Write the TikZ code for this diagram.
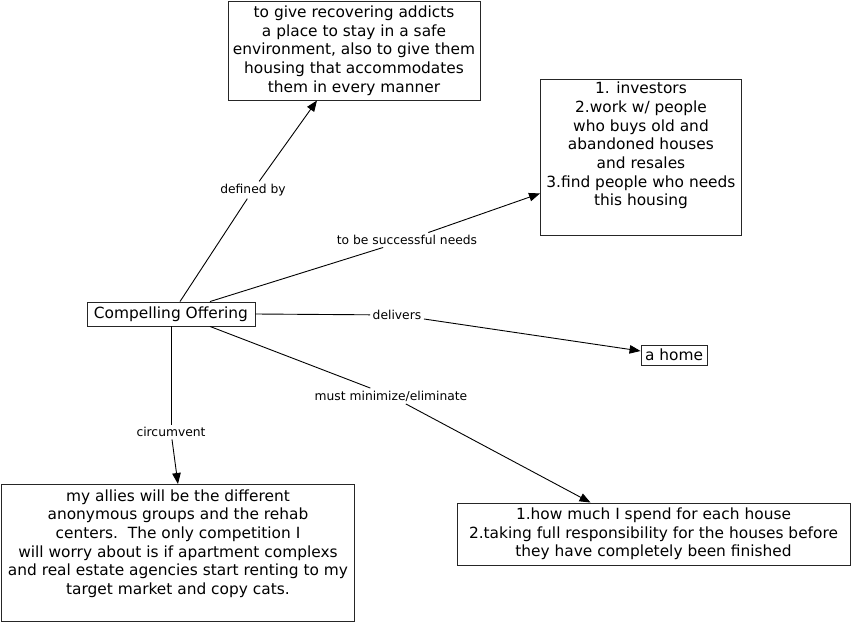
\documentclass[tikz,border=0pt]{standalone}
\usepackage{fontspec}
\setmainfont{DejaVu Sans}
\usetikzlibrary{arrows.meta}
\begin{document}
\begin{tikzpicture}[x=1pt,y=-1pt,
  box/.style={draw=black!85, line width=0.9pt, align=center, inner sep=0pt,
    font=\fontsize{15.4}{18.7}\selectfont},
  lbl/.style={inner sep=2.5pt, font=\fontsize{12.3}{14}\selectfont},
  conn/.style={line width=0.9pt},
  arr/.style={conn, -{Triangle[length=11pt,width=8.5pt]}}]
\useasboundingbox (0,0) rectangle (853,623);

\node[box, minimum width=252pt, minimum height=99pt] (goal) at (354,50.5)
  {to give recovering addicts\\a place to stay in a safe\\environment, also to give them\\housing that accommodates\\them in every manner};

\node[box, anchor=north west] (needs) at (540,79)
  {\begin{minipage}[c][156pt][t]{201pt}\centering\vspace*{2.5pt}%
  1. investors\\2.work w/ people\\who buys old and\\abandoned houses\\and resales\\3.find people who needs\\this housing\end{minipage}};

\node[box, minimum width=168pt, minimum height=24pt] (co) at (171,314) {Compelling Offering};

\node[box, minimum width=66pt, minimum height=20pt] (home) at (674,355) {a home};

\node[box, anchor=north west] (bl) at (1,484)
  {\begin{minipage}[c][137pt][t]{353pt}\centering\vspace*{5pt}%
  my allies will be the different\\anonymous groups and the rehab\\centers.\ \ The only competition I\\will worry about is if apartment complexs\\and real estate agencies start renting to my\\target market and copy cats.\end{minipage}};

\node[box, minimum width=393pt, minimum height=62pt] (br) at (653.5,534)
  {1.how much I spend for each house\\2.taking full responsibility for the houses before\\they have completely been finished};

\node[lbl] (l1) at (253,190) {defined by};
\node[lbl] (l2) at (407,240) {to be successful needs};
\node[lbl] (l3) at (397,315) {delivers};
\node[lbl] (l4) at (391,396) {must minimize/eliminate};
\node[lbl] (l5) at (171,432) {circumvent};

\draw[conn] ([xshift=9pt]co.north) -- (l1);
\draw[arr] (l1) -- ([xshift=-37pt]goal.south);
\draw[conn] ([xshift=39pt]co.north) -- (l2);
\draw[arr] (l2) -- ([yshift=-36pt]needs.west);
\draw[conn] (co.east) -- (l3);
\draw[arr] (l3) -- ([yshift=4pt]home.west);
\draw[conn] ([xshift=39pt]co.south) -- (l4);
\draw[arr] (l4) -- ([xshift=-63pt]br.north);
\draw[conn] (co.south) -- (l5);
\draw[arr] (l5) -- (bl.north);
\end{tikzpicture}
\end{document}
